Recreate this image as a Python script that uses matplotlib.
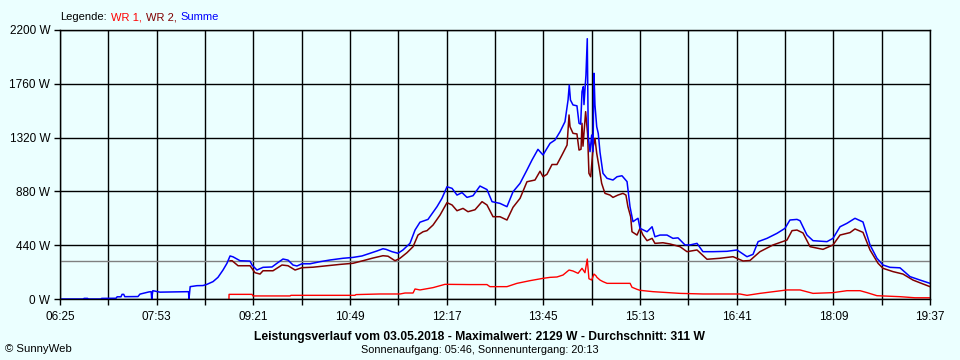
import matplotlib
matplotlib.use("Agg")
import matplotlib.pyplot as plt

# time in minutes since midnight, power in W
sum_t = [385, 406, 407, 410, 411, 422, 423, 436, 437, 440.5, 441.5, 443, 444, 456, 457.8, 466, 468, 468.5,
         469.5, 476, 489, 502, 502.4, 503.5, 509.7, 515.2, 518.8, 524.3, 528.8, 533.4, 537.0, 539.8,
         542.5, 548.9, 558.0, 559.8, 564.3, 569.8, 578.0, 582.5, 588.0, 592.6, 597.1, 600.7, 605.3,
         612.6, 621.7, 630.8, 642.6, 651.7, 659.9, 667.2, 673.6, 679.0, 681.8, 687.2, 692.7, 697.2,
         703.6, 708.2, 712.7, 720.0, 728.2, 732.7, 737.3, 741.9, 746.4, 751.0, 755.5, 761.0, 767.3,
         773.7, 778.3, 785.5, 791.9, 797.4, 803.8, 810.1, 814.7, 820.1, 824.7, 831.1, 835.6, 840.2,
         844.7, 847.5, 848.6, 849.7, 852.0, 855.6, 857.5, 859.0, 860.2, 861.4, 862.0, 863.8, 865.0,
         865.9, 867.5, 869.0, 870.2, 871.1, 872.0, 873.6, 875.0, 876.6, 879.3, 883.0, 888.4, 892.1,
         896.6, 901.2, 903.9, 906.6, 909.4, 911.2, 913.0, 919.4, 924.0, 926.6, 931.2, 937.6, 943.0,
         947.6, 954.0, 958.5, 964.9, 970.3, 979.4, 992.2, 1001.3, 1010.4, 1015.9, 1020.5, 1028.6,
         1037.7, 1045.0, 1049.5, 1055.9, 1058.7, 1065.0, 1070.5, 1083.2, 1088.7, 1095.1, 1101.4,
         1108.7, 1116.0, 1122.4, 1128.7, 1134.2, 1140.6, 1149.7, 1158.8, 1167.9, 1177.0]
sum_w = [0, 0, 5, 5, 0, 0, 5, 6, 18, 18, 38, 38, 19, 20, 40, 58, 60, 0,
         68, 56, 58, 60, 0, 101, 109, 110, 120, 142, 177, 237, 292, 352,
         345, 313, 310, 278, 237, 259, 262, 292, 327, 318, 278, 270, 288,
         288, 305, 319, 333, 340, 352, 374, 393, 411, 406, 387, 374, 401,
         455, 564, 628, 651, 755, 823, 918, 905, 850, 870, 831, 845, 924,
         895, 796, 782, 755, 877, 946, 1055, 1137, 1224, 1178, 1273, 1300, 1368,
         1450, 1627, 1750, 1627, 1587, 1580, 1437, 1430, 1696, 1736, 1590, 1832, 2129,
         1327, 1205, 1341, 1205, 1846, 1587, 1409, 1354, 1200, 1028, 987, 973, 1000,
         1008, 960, 755, 632, 650, 660, 578, 550, 591, 509, 523, 523, 496,
         500, 442, 442, 455, 387, 387, 390, 401, 346, 365, 469, 496,
         537, 578, 646, 651, 640, 523, 477, 469, 496, 591, 619,
         660, 630, 442, 333, 278, 259, 255, 183, 155, 128]

wr2_t = [539.8, 541.7, 547.1, 558.0, 562.5, 567.1, 569.8, 578.9, 587.1, 592.6, 599.0, 605.3, 615.3,
         628.1, 639.9, 651.7, 660.8, 669.9, 679.0, 683.6, 690.0, 694.5, 700.9, 706.4, 710.9, 715.5,
         719.1, 724.6, 731.0, 737.3, 741.9, 746.4, 751.9, 756.4, 762.8, 769.2, 773.7, 779.2, 785.5,
         791.9, 797.4, 803.8, 810.1, 817.4, 822.0, 824.7, 828.3, 832.9, 837.4, 842.0, 846.6, 848.4,
         849.3, 852.0, 855.6, 857.5, 859.3, 860.2, 861.1, 863.5, 865.3, 866.5, 868.1, 870.4, 872.0,
         873.6, 875.7, 878.1, 881.1, 885.7, 888.4, 892.9, 897.5, 900.2, 902.0, 904.5, 905.7, 910.3,
         913.0, 915.7, 919.4, 924.0, 926.6, 933.9, 940.3, 949.4, 955.8, 964.9, 974.0, 985.8, 997.7,
         1006.8, 1013.1, 1022.2, 1034.1, 1046.8, 1051.4, 1055.9, 1061.4, 1067.8, 1079.6, 1088.7,
         1095.1, 1104.2, 1108.7, 1116.0, 1122.4, 1129.7, 1134.2, 1143.3, 1152.4, 1161.5, 1170.6, 1177.0]
wr2_w = [313, 313, 272, 272, 215, 204, 231, 231, 278, 272, 237, 256, 260,
         272, 283, 292, 313, 335, 354, 350, 313, 333, 379, 428, 523, 550,
         559, 605, 687, 788, 769, 722, 741, 714, 730, 796, 769, 673, 673,
         646, 750, 823, 959, 973, 1045, 1000, 1020, 1100, 1100, 1178, 1259, 1505,
         1409, 1355, 1350, 1218, 1225, 1437, 1250, 1532, 1350, 1028, 1000, 1246, 1314,
         1191, 1082, 946, 864, 850, 831, 850, 864, 850, 755, 673, 550, 523,
         578, 523, 477, 496, 455, 460, 450, 428, 387, 401, 325, 333, 346,
         311, 315, 387, 442, 482, 559, 564, 540, 428, 406, 442,
         523, 543, 573, 545, 401, 292, 251, 224, 204, 155, 123, 101]

wr1_t = [538.8, 538.9, 559.8, 560.7, 594.4, 595.3, 653.5, 654.4, 676.0, 694.5, 699.1, 706.4, 708.2,
         712.7, 724.6, 735.5, 758.2, 773.7, 776.4, 791.9, 801.0, 812.9, 824.7, 831.1, 837.4, 842.9,
         848.4, 852.0, 856.6, 860.2, 862.9, 865.0, 866.5, 869.0, 871.1, 872.9, 873.8, 876.6, 879.3,
         883.0, 904.0, 905.7, 910.3, 913.0, 924.8, 949.4, 970.3, 1004.0, 1010.4, 1022.2, 1046.8,
         1058.7, 1070.5, 1088.7, 1101.4, 1113.3, 1119.7, 1128.7, 1149.7, 1163.3, 1177.0]
wr1_w = [0, 38, 38, 25, 25, 30, 30, 36, 41, 41, 49, 49, 82,
         74, 93, 120, 118, 118, 101, 101, 128, 150, 169, 177, 180, 196,
         237, 229, 210, 251, 215, 327, 166, 155, 204, 190, 177, 155, 142,
         128, 128, 96, 79, 71, 60, 46, 41, 41, 30, 46, 74,
         74, 46, 52, 68, 68, 52, 27, 19, 10, 10]

avg_w = 311
y_ticks = [0, 440, 880, 1320, 1760, 2200]
day_start, day_end = 385, 1177  # 06:25 .. 19:37

BG = "#EBFFFF"
plt.rcParams["font.family"] = ["Liberation Sans", "DejaVu Sans"]
plt.rcParams["font.size"] = 8.5


def hhmm(m):
    m = int(round(m))
    return f"{m // 60:02d}:{m % 60:02d}"


fig = plt.figure(figsize=(9.6, 3.6), dpi=100, facecolor=BG)
ax = fig.add_axes([60 / 960, 1 - 299 / 360, 870 / 960, 269 / 360], facecolor=BG)

ax.axhline(avg_w, color="#808080", lw=1, zorder=2)
ax.plot(wr1_t, wr1_w, color="#FF0000", lw=1.0, zorder=3)
ax.plot(wr2_t, wr2_w, color="#800000", lw=1.1, zorder=4)
ax.plot(sum_t, sum_w, color="#0000FF", lw=1.1, zorder=5)

ax.set_xlim(day_start, day_end)
ax.set_ylim(0, 2200)

major = list(range(day_start, day_end + 1, 88))
minor = list(range(day_start + 44, day_end, 88))
ax.set_xticks(major)
ax.set_xticklabels([hhmm(m) for m in major])
ax.set_xticks(minor, minor=True)
ax.set_yticks(y_ticks)
ax.set_yticklabels([f"{v} W" for v in y_ticks])

ax.grid(True, which="both", color="black", lw=1, zorder=1)
ax.set_axisbelow(True)
ax.tick_params(which="both", direction="out", length=4, width=1, color="black", labelsize=8.5)
ax.tick_params(axis="x", pad=5)
ax.tick_params(axis="y", pad=3)
for s in ax.spines.values():
    s.set_color("black")
    s.set_linewidth(1)
    s.set_zorder(6)

# legend line above the plot, coloured word by word
fig.canvas.draw()
renderer = fig.canvas.get_renderer()
x = 60 / 960
for txt, col in [("Legende:", "black"), ("WR 1,", "#FF0000"), ("WR 2,", "#800000"), ("Summe", "#0000FF")]:
    t = fig.text(x, 1 - 17 / 360, txt, color=col, fontsize=8, va="center", ha="left")
    bb = t.get_window_extent(renderer=renderer)
    x += (bb.width + 4) / fig.bbox.width

fig.text(0.5, 1 - 337 / 360,
         "Leistungsverlauf vom 03.05.2018 - Maximalwert: 2129 W - Durchschnitt: 311 W",
         ha="center", va="center", fontsize=8.7, fontweight="bold")
fig.text(0.5, 1 - 350 / 360, "Sonnenaufgang: 05:46, Sonnenuntergang: 20:13",
         ha="center", va="center", fontsize=7.8)
fig.text(5 / 960, 1 - 349 / 360, "© SunnyWeb", ha="left", va="center", fontsize=8.2)

fig.savefig("out.png", dpi=100, facecolor=BG)
